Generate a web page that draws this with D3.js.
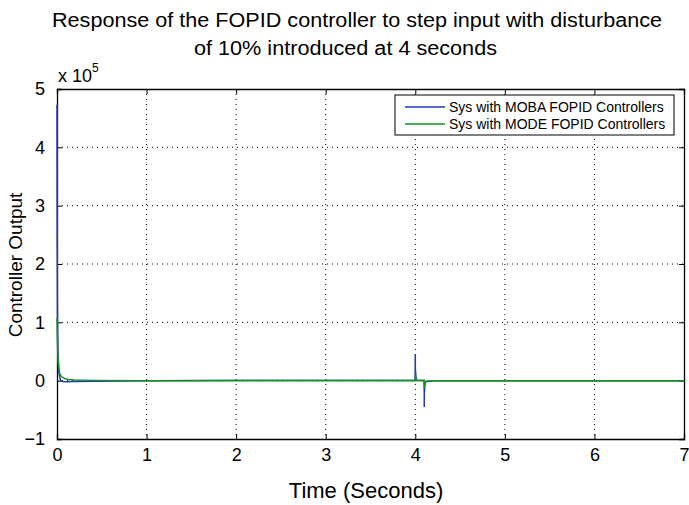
<!DOCTYPE html>
<html>
<head>
<meta charset="utf-8">
<script src="https://cdn.jsdelivr.net/npm/d3@7"></script>
<style>
  body { margin: 0; background: #fff; }
  svg { font-family: "Liberation Sans", Arial, sans-serif; }
  .grid line { stroke: #000; stroke-dasharray: 1,4; stroke-width: 1; }
</style>
</head>
<body>
<div id="chart"></div>
<script>

// Data (controller output in units of 1e5)
var xTicks = [0, 1, 2, 3, 4, 5, 6, 7];
var yTicks = [-1, 0, 1, 2, 3, 4, 5];

var mobaT = [0, 0.002, 0.005, 0.01, 0.02, 0.04, 0.07, 0.1, 0.2, 0.4, 1, 2, 3, 3.999, 4.0, 4.001, 4.01, 4.02, 4.1, 4.1001, 4.101, 4.11, 4.2, 5, 7];
var mobaY = [4.73, 2.5, 1.2, 0.5, 0.15, 0.0, -0.015, -0.02, -0.015, -0.01, 0, 0.005, 0.005, 0.005, 0.45, 0.2, 0.02, 0.005, 0.005, -0.45, -0.2, -0.02, 0, 0, 0];

var modeT = [0, 0.003, 0.008, 0.015, 0.03, 0.05, 0.08, 0.12, 0.2, 0.4, 1, 2, 3, 3.999, 4.0, 4.003, 4.02, 4.1, 4.1001, 4.103, 4.12, 4.2, 5, 7];
var modeY = [1.08, 0.8, 0.5, 0.3, 0.12, 0.07, 0.04, 0.02, 0.01, 0.005, 0, 0.005, 0.005, 0.005, 0.1, 0.05, 0.005, 0.005, -0.12, -0.06, -0.01, 0, 0, 0];

var seriesNames = ['Sys with MOBA FOPID Controllers', 'Sys with MODE FOPID Controllers'];
var seriesColors = ['#1f3bb3', '#12911e'];

var margin = {top: 89, right: 5, bottom: 66, left: 57};
var W = 689, H = 505;
var width = W - margin.left - margin.right;
var height = H - margin.top - margin.bottom;

var x = d3.scaleLinear().domain([0, 7]).range([0, width]);
var y = d3.scaleLinear().domain([-1, 5]).range([height, 0]);

var svg = d3.select('#chart').append('svg')
    .attr('width', W).attr('height', H);

var g = svg.append('g')
    .attr('transform', 'translate(' + margin.left + ',' + margin.top + ')');

// Grid
var grid = g.append('g').attr('class', 'grid');
grid.selectAll('.vx').data(xTicks.slice(1, -1)).enter().append('line')
    .attr('x1', function (d) { return x(d); }).attr('x2', function (d) { return x(d); })
    .attr('y1', 0).attr('y2', height);
grid.selectAll('.hy').data(yTicks.slice(1, -1)).enter().append('line')
    .attr('y1', function (d) { return y(d); }).attr('y2', function (d) { return y(d); })
    .attr('x1', 0).attr('x2', width);

// Axes (ticks inward)
var tickFmt = d3.format('d');
var xAxis = g.append('g').attr('transform', 'translate(0,' + height + ')')
    .call(d3.axisBottom(x).tickValues(xTicks).tickSize(-5).tickPadding(9).tickFormat(tickFmt));
var xTop = g.append('g')
    .call(d3.axisTop(x).tickValues(xTicks).tickSize(-5).tickFormat(''));
var yAxis = g.append('g')
    .call(d3.axisLeft(y).tickValues(yTicks).tickSize(-5).tickPadding(12).tickFormat(tickFmt));
var yRight = g.append('g').attr('transform', 'translate(' + width + ',0)')
    .call(d3.axisRight(y).tickValues(yTicks).tickSize(-5).tickFormat(''));

[xAxis, xTop, yAxis, yRight].forEach(function (a) {
    a.selectAll('.domain').attr('stroke', '#000').attr('stroke-width', 1.3);
    a.selectAll('.tick line').attr('stroke', '#000');
    a.selectAll('.tick text').attr('font-size', 18).attr('fill', '#000')
        .attr('font-family', '"Liberation Sans", Arial, sans-serif');
});
yAxis.selectAll('.tick text').text(function (d) { return d < 0 ? '\u22121' : d; });

// Lines (drawn over the axes)
var line = d3.line()
    .x(function (d) { return x(d[0]); })
    .y(function (d) { return y(d[1]); });

var plotG = g.append('g');
plotG.append('path').datum(d3.zip(mobaT, mobaY))
    .attr('d', line).attr('fill', 'none')
    .attr('stroke', seriesColors[0]).attr('stroke-width', 1.5);
plotG.append('path').datum(d3.zip(modeT, modeY))
    .attr('d', line).attr('fill', 'none')
    .attr('stroke', seriesColors[1]).attr('stroke-width', 1.5);

// Exponent label
svg.append('text').attr('x', 58).attr('y', 82)
    .attr('font-size', 18).text('x 10')
    .append('tspan').attr('font-size', 12).attr('dy', -10).text('5');

// Title
svg.append('text').attr('x', 52).attr('y', 27)
    .attr('font-size', 19.5).attr('textLength', 610).attr('lengthAdjust', 'spacingAndGlyphs')
    .text('Response of the FOPID controller to step input with disturbance');
svg.append('text').attr('x', 194).attr('y', 55)
    .attr('font-size', 19.5).attr('textLength', 303).attr('lengthAdjust', 'spacingAndGlyphs')
    .text('of 10% introduced at 4 seconds');

// Axis labels
svg.append('text').attr('x', 366).attr('y', 498).attr('text-anchor', 'middle')
    .attr('font-size', 22).text('Time (Seconds)');
svg.append('text').attr('transform', 'translate(22,265) rotate(-90)')
    .attr('text-anchor', 'middle').attr('font-size', 19).text('Controller Output');

// Legend
var lg = svg.append('g').attr('transform', 'translate(395,95)');
lg.append('rect').attr('width', 279).attr('height', 40)
    .attr('fill', '#fff').attr('stroke', '#000').attr('stroke-width', 1);
var items = lg.selectAll('.legend').data(seriesNames).enter().append('g')
    .attr('transform', function (d, i) { return 'translate(0,' + (12 + i * 17) + ')'; });
items.append('line').attr('x1', 10).attr('x2', 50)
    .attr('stroke', function (d, i) { return seriesColors[i]; }).attr('stroke-width', 1.5);
items.append('text').attr('x', 54).attr('y', 5).attr('font-size', 14)
    .text(function (d) { return d; });

</script>
</body>
</html>
